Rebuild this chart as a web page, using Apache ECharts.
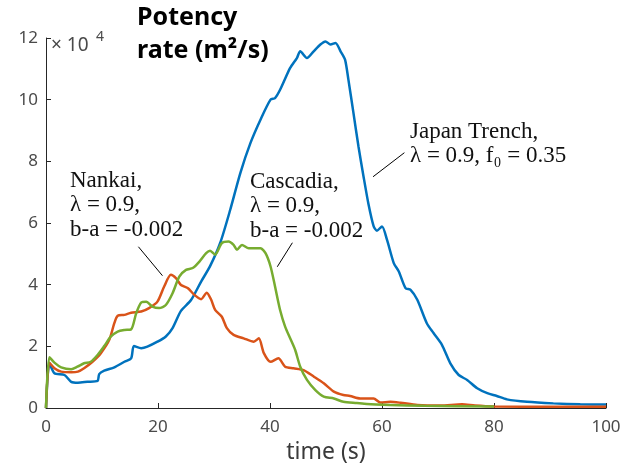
<!DOCTYPE html>
<html>
<head>
<meta charset="utf-8">
<script src="https://cdn.jsdelivr.net/npm/echarts@6/dist/echarts.min.js"></script>
<style>html,body{margin:0;padding:0;background:#fff;}#c{width:626px;height:473px;}</style>
</head>
<body>
<div id="c"></div>
<script>
// Values in units of 1e4 m^2/s
const japanT = [0,0.6,1.5,3.3,4.5,5.7,7.4,9.2,9.5,10.4,12.2,14,15.2,15.7,17,18.1,19.9,21.4,22.6,24.1,25.9,27.7,29.3,31.1,32.9,34.7,36.5,38.3,40.1,40.9,41.8,43.6,44.8,45.4,46.6,47.8,49.0,49.9,50.8,51.7,52.6,53.4,54.0,54.9,55.8,56.7,57.6,58.5,59.1,60.0,60.9,62.1,63.0,64.2,65.1,66.3,68.0,69.2,70.7,72.2,73.7,75.2,77.0,78.8,80.5,82.3,85.9,90.6,95.4,100];
const japanY = [0,1.45,1.13,1.07,0.85,0.82,0.85,0.88,1.1,1.21,1.32,1.5,1.61,2.01,1.94,1.99,2.15,2.32,2.59,3.15,3.5,4.1,4.6,5.35,6.43,7.62,8.59,9.35,10.0,10.05,10.32,11.03,11.35,11.57,11.35,11.57,11.79,11.89,11.79,11.84,11.57,11.3,10.65,9.57,8.48,7.51,6.6,5.9,5.75,5.89,5.45,4.7,4.43,3.89,3.83,3.51,2.75,2.43,2.05,1.45,1.07,0.91,0.64,0.48,0.39,0.28,0.2,0.15,0.12,0.11];

const nankaiT = [0,0.6,1.5,2.7,4.5,5.7,6.8,8.3,9.8,11.3,12.2,12.8,14.0,15.2,17.0,18.4,19.9,21.1,22.3,23.2,24.1,25.3,26.5,27.7,28.7,29.5,30.2,31.4,32.3,33.5,35.3,37.1,38.0,38.9,40.1,41.5,42.7,44.2,46.0,47.8,49.6,51.4,53.1,54.3,56.1,58.5,59.7,61.5,63.3,66.3,70.4,74.3,76.6,80,90,100];
const nankaiY = [0,1.47,1.29,1.18,1.16,1.18,1.29,1.5,1.78,2.21,2.75,2.99,3.02,3.09,3.13,3.24,3.45,3.94,4.32,4.21,3.99,3.89,3.67,3.53,3.74,3.51,3.18,2.96,2.59,2.37,2.26,2.15,2.26,1.78,1.5,1.61,1.34,1.29,1.23,1.02,0.8,0.53,0.42,0.39,0.31,0.31,0.18,0.2,0.17,0.1,0.08,0.12,0.08,0.05,0.04,0.04];

const cascadiaT = [0,0.6,1.5,2.7,4.5,5.6,6.8,8.0,9.2,10.4,11.6,12.8,14.0,15.2,16.1,17.0,17.9,19.0,20.2,21.4,22.6,23.8,25.0,26.2,27.4,28.6,29.3,30.2,31.4,32.6,33.5,34.1,35.0,36.2,37.4,38.3,39.2,40.1,40.9,41.8,42.7,43.6,44.5,45.4,46.6,48.1,49.6,51.4,53.1,55.5,57.3,61.5,67.5,80];
const cascadiaY = [0,1.65,1.47,1.32,1.26,1.34,1.45,1.5,1.72,2.01,2.32,2.48,2.53,2.55,3.07,3.42,3.45,3.29,3.24,3.34,3.72,4.26,4.48,4.54,4.75,5.02,5.1,4.97,5.35,5.4,5.29,5.13,5.29,5.18,5.18,5.18,5.02,4.59,3.94,3.18,2.64,2.26,1.88,1.34,0.91,0.58,0.37,0.31,0.2,0.16,0.13,0.1,0.07,0.05];

const xTicks = [0,20,40,60,80,100];
const yTicks = [0,2,4,6,8,10,12];

// annotation leader lines [t, value] pairs
const nankaiLeader = [[16.5,5.23],[20.8,4.29]];
const cascadiaLeader = [[44.0,5.36],[41.3,4.58]];
const japanLeader = [[64.0,8.28],[58.4,7.5]];

const nankaiLabel = ['Nankai,', 'λ = 0.9,', 'b-a = -0.002'];
const cascadiaLabel = ['Cascadia,', 'λ = 0.9,', 'b-a = -0.002'];
const japanLabel = ['Japan Trench,', 'λ = 0.9, f₀ = 0.35'];

const zip = (t, y) => t.map((v, i) => [v, y[i]]);

const chart = echarts.init(document.getElementById('c'), null, {renderer: 'canvas'});
const axisColor = '#262626';
const labelColor = '#4a4a4a';
const serif = '"Liberation Serif", "DejaVu Serif", serif';
const sans = '"Noto Sans", Lato, sans-serif';

function leader(pts) {
  return [{coord: pts[0]}, {coord: pts[1]}];
}
function textBlock(lines, x, y0, dy) {
  return lines.map((s, i) => ({
    type: 'text', left: x, top: y0 + i * dy, silent: true,
    style: {text: s, font: '23px ' + serif, fill: '#111'}
  }));
}

chart.setOption({
  animation: false,
  grid: {left: 46, right: 20, top: 38, bottom: 65, containLabel: false},
  xAxis: {
    type: 'value', min: 0, max: 100, interval: 20,
    name: 'time (s)', nameLocation: 'middle', nameGap: 30,
    nameTextStyle: {fontFamily: sans, fontSize: 23, color: '#3a3a3a'},
    axisLine: {show: true, lineStyle: {color: axisColor, width: 1}},
    axisTick: {show: true, inside: true, length: 5, lineStyle: {color: axisColor}},
    axisLabel: {margin: 11, fontFamily: sans, fontSize: 17, color: labelColor,
      formatter: v => xTicks.includes(v) ? String(v) : ''},
    splitLine: {show: false}
  },
  yAxis: {
    type: 'value', min: 0, max: 12, interval: 2,
    axisLine: {show: true, onZero: false, lineStyle: {color: axisColor, width: 1}},
    axisTick: {show: true, inside: true, length: 5, lineStyle: {color: axisColor}},
    axisLabel: {margin: 8, fontFamily: sans, fontSize: 17, color: labelColor,
      formatter: v => yTicks.includes(v) ? String(v) : ''},
    splitLine: {show: false}
  },
  series: [
    {type: 'line', name: 'Japan Trench', data: zip(japanT, japanY), showSymbol: false, smooth: 0.25,
      lineStyle: {color: '#0072BD', width: 2.5}, z: 2,
      markLine: {silent: true, symbol: ['none', 'none'], label: {show: false},
        lineStyle: {color: '#000', width: 1, type: 'solid'},
        emphasis: {disabled: true},
        data: [leader(nankaiLeader), leader(cascadiaLeader), leader(japanLeader)]}},
    {type: 'line', name: 'Nankai', data: zip(nankaiT, nankaiY), showSymbol: false, smooth: 0.25,
      lineStyle: {color: '#D95319', width: 2.5}, z: 3},
    {type: 'line', name: 'Cascadia', data: zip(cascadiaT, cascadiaY), showSymbol: false, smooth: 0.25,
      lineStyle: {color: '#77AC30', width: 2.5}, z: 4}
  ],
  graphic: [
    {type: 'text', left: 137, top: 5, silent: true,
      style: {text: 'Potency', font: 'bold 25px ' + sans, fill: '#000'}},
    {type: 'text', left: 137, top: 38, silent: true,
      style: {text: 'rate (m²/s)', font: 'bold 25px ' + sans, fill: '#000'}},
    {type: 'text', left: 51, top: 36, silent: true,
      style: {text: '× 10', font: '19px ' + sans, fill: labelColor}},
    {type: 'text', left: 96, top: 30, silent: true,
      style: {text: '4', font: '14px ' + sans, fill: labelColor}},
    ...textBlock(nankaiLabel, 70, 169, 24.5),
    ...textBlock(cascadiaLabel, 250, 170, 24.5),
    ...textBlock(japanLabel, 410, 120, 24.5)
  ]
});
</script>
</body>
</html>
